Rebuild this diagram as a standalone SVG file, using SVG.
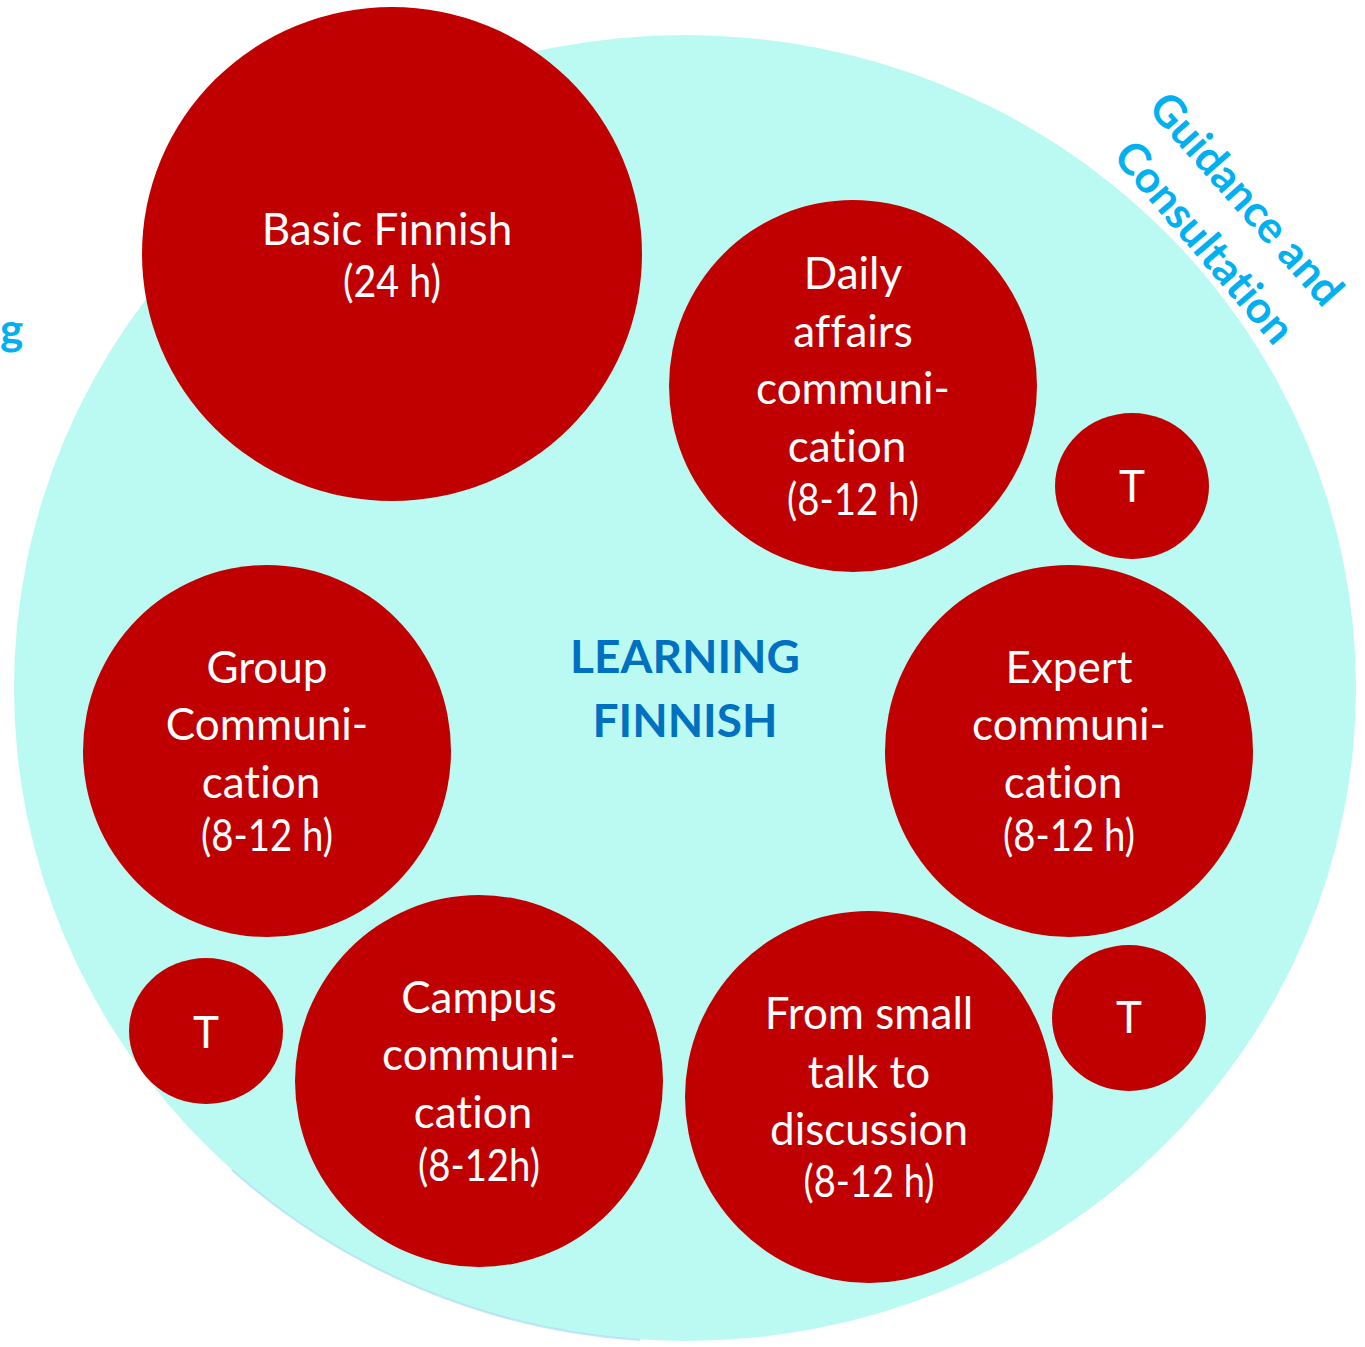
<svg xmlns="http://www.w3.org/2000/svg" width="1365" height="1347" viewBox="0 0 1365 1347">
<style>
text{font-variant-ligatures:none;font-feature-settings:"liga" 0,"clig" 0}
.bg{fill:#bbfaf2}
.node{fill:#c00000}
.lbl{font-family:Lato,"Liberation Sans",sans-serif;font-size:44px;fill:#ffffff;text-anchor:middle}
.title{font-family:Lato,"Liberation Sans",sans-serif;font-weight:bold;font-size:46px;fill:#0070c0;text-anchor:middle}
.side{font-family:Lato,"Liberation Sans",sans-serif;font-weight:bold;font-size:44px;fill:#00b0f0}
</style>
<rect width="1365" height="1347" fill="#ffffff"/>
<g id="background">
<ellipse class="bg" cx="685" cy="688" rx="671" ry="653"/>
<path d="M 232 1170 A 671 653 0 0 0 640 1340" fill="none" stroke="#9fd3ee" stroke-width="2" opacity="0.6"/>
<text class="side" x="0" y="345">g</text>
<text class="side" text-anchor="middle" transform="translate(1235,209) rotate(48.5)">Guidance and</text>
<text class="side" text-anchor="middle" transform="translate(1193,252) rotate(49.5)">Consultation</text>
<text class="title" x="685" y="673">LEARNING</text>
<text class="title" x="685" y="737">FINNISH</text>
</g>
<g id="connectors"></g>
<g id="basic-finnish">
<ellipse class="node" cx="392" cy="254" rx="250" ry="247"/>
<text class="lbl" x="387" y="245">Basic Finnish</text>
<text class="lbl" x="392" y="297" textLength="98" lengthAdjust="spacingAndGlyphs">(24 h)</text>
</g>
<g id="daily-affairs">
<ellipse class="node" cx="853" cy="386" rx="184" ry="186"/>
<text class="lbl" x="853" y="289">Daily</text>
<text class="lbl" x="853" y="347">affairs</text>
<text class="lbl" x="853" y="404">communi-</text>
<text class="lbl" x="847" y="462">cation</text>
<text class="lbl" x="853" y="515" textLength="132" lengthAdjust="spacingAndGlyphs">(8-12 h)</text>
</g>
<g id="t-top">
<ellipse class="node" cx="1132" cy="486" rx="77" ry="73"/>
<text class="lbl" x="1132" y="502">T</text>
</g>
<g id="group-communication">
<ellipse class="node" cx="267" cy="751" rx="184" ry="186"/>
<text class="lbl" x="267" y="683">Group</text>
<text class="lbl" x="267" y="740">Communi-</text>
<text class="lbl" x="261" y="798">cation</text>
<text class="lbl" x="267" y="851" textLength="132" lengthAdjust="spacingAndGlyphs">(8-12 h)</text>
</g>
<g id="expert-communication">
<ellipse class="node" cx="1069" cy="751" rx="184" ry="186"/>
<text class="lbl" x="1069" y="683">Expert</text>
<text class="lbl" x="1069" y="740">communi-</text>
<text class="lbl" x="1063" y="798">cation</text>
<text class="lbl" x="1069" y="851" textLength="132" lengthAdjust="spacingAndGlyphs">(8-12 h)</text>
</g>
<g id="t-left">
<ellipse class="node" cx="206" cy="1031" rx="77" ry="73"/>
<text class="lbl" x="206" y="1048">T</text>
</g>
<g id="campus-communication">
<ellipse class="node" cx="479" cy="1081" rx="184" ry="186"/>
<text class="lbl" x="479" y="1013">Campus</text>
<text class="lbl" x="479" y="1070">communi-</text>
<text class="lbl" x="473" y="1128">cation</text>
<text class="lbl" x="479" y="1181" textLength="122" lengthAdjust="spacingAndGlyphs">(8-12h)</text>
</g>
<g id="small-talk">
<ellipse class="node" cx="869" cy="1097" rx="184" ry="186"/>
<text class="lbl" x="869" y="1029">From small</text>
<text class="lbl" x="869" y="1088">talk to</text>
<text class="lbl" x="869" y="1145">discussion</text>
<text class="lbl" x="869" y="1197" textLength="131" lengthAdjust="spacingAndGlyphs">(8-12 h)</text>
</g>
<g id="t-right">
<ellipse class="node" cx="1129" cy="1018" rx="77" ry="73"/>
<text class="lbl" x="1129" y="1033">T</text>
</g>
</svg>
